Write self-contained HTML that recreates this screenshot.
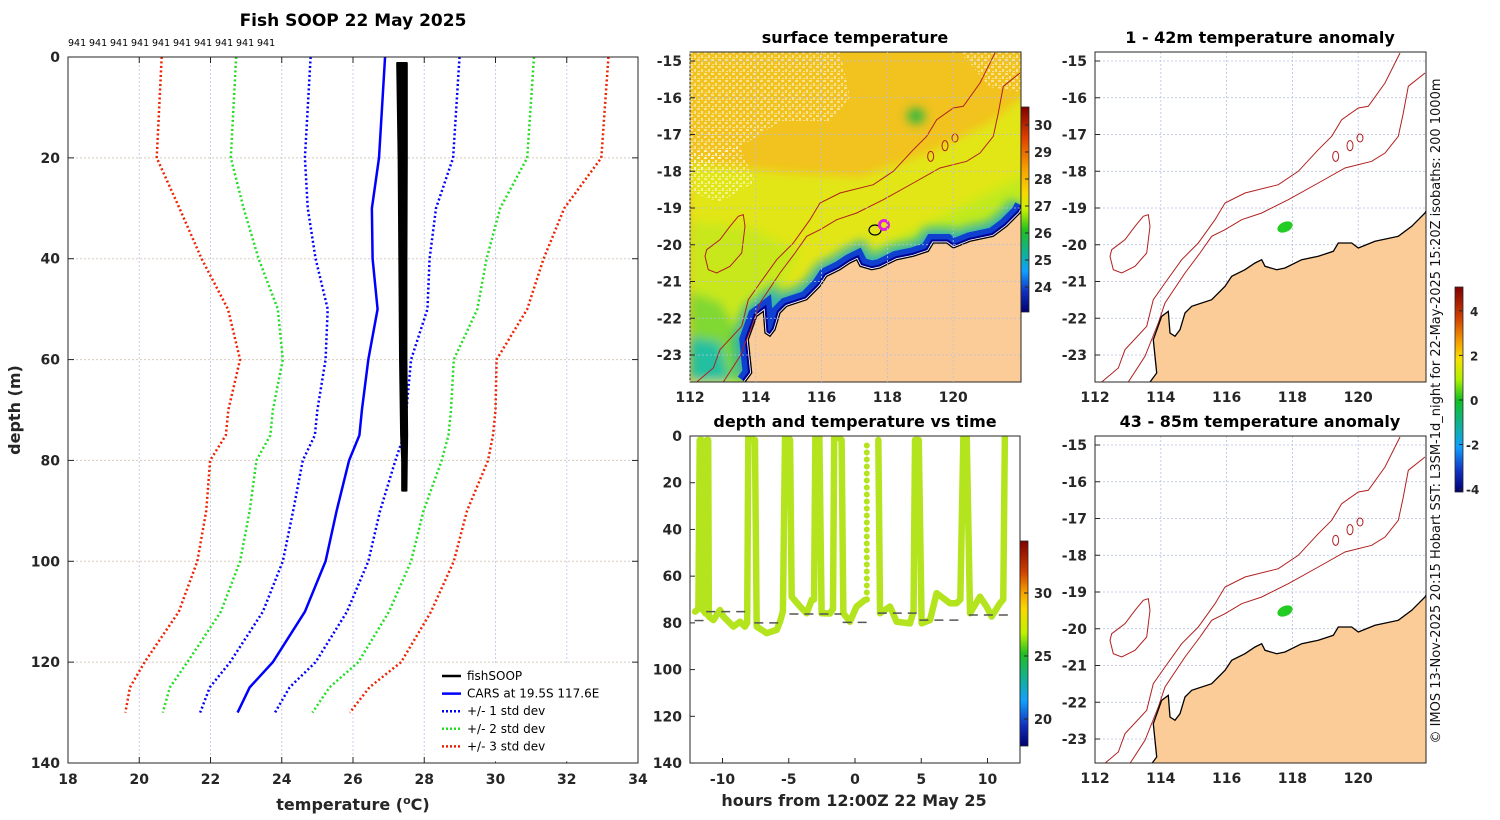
<!DOCTYPE html>
<html><head><meta charset="utf-8">
<style>
html,body{margin:0;padding:0;background:#fff;}
svg{display:block;font-family:"DejaVu Sans","Liberation Sans",sans-serif;}
.tk{font-size:14px;font-weight:bold;fill:#262626;}
.tt{font-size:16px;font-weight:bold;fill:#000;}
</style></head>
<body>
<svg id="fig" width="1500" height="820" viewBox="0 0 1500 820" xmlns="http://www.w3.org/2000/svg">
<defs>
<clipPath id="cm1"><rect x="0" y="0" width="331" height="330"/></clipPath>
<clipPath id="cm2"><rect x="0" y="0" width="331" height="327"/></clipPath>
<clipPath id="cts"><rect x="690" y="436" width="330" height="327"/></clipPath>
<filter id="blur3"><feGaussianBlur stdDeviation="5"/></filter>
<pattern id="speck" width="7" height="7" patternUnits="userSpaceOnUse">
<rect x="0" y="0" width="3" height="2" fill="#fff"/><rect x="4" y="3" width="2" height="3" fill="#fff"/><rect x="1" y="5" width="2" height="1" fill="#fff"/>
</pattern>
<linearGradient id="jet1" x1="0" y1="0" x2="0" y2="1">
<stop offset="0" stop-color="#800000"/><stop offset="0.15" stop-color="#e04000"/><stop offset="0.3" stop-color="#f5a000"/><stop offset="0.42" stop-color="#f8d800"/><stop offset="0.5" stop-color="#c8f000"/><stop offset="0.6" stop-color="#20c020"/><stop offset="0.72" stop-color="#10b0a0"/><stop offset="0.8" stop-color="#10a0ff"/><stop offset="0.9" stop-color="#1030c0"/><stop offset="1" stop-color="#000070"/></linearGradient>
<linearGradient id="jet2" x1="0" y1="0" x2="0" y2="1">
<stop offset="0" stop-color="#800000"/><stop offset="0.15" stop-color="#d04000"/><stop offset="0.25" stop-color="#f5a000"/><stop offset="0.33" stop-color="#f8d800"/><stop offset="0.45" stop-color="#c0f000"/><stop offset="0.55" stop-color="#20c020"/><stop offset="0.68" stop-color="#10b0a0"/><stop offset="0.78" stop-color="#10a0ff"/><stop offset="0.9" stop-color="#1030c0"/><stop offset="1" stop-color="#000070"/></linearGradient>
<linearGradient id="jet3" x1="0" y1="0" x2="0" y2="1">
<stop offset="0" stop-color="#800000"/><stop offset="0.15" stop-color="#d04000"/><stop offset="0.27" stop-color="#f5a000"/><stop offset="0.35" stop-color="#f8e000"/><stop offset="0.45" stop-color="#b0f000"/><stop offset="0.55" stop-color="#10c020"/><stop offset="0.68" stop-color="#10b0a0"/><stop offset="0.78" stop-color="#10a0ff"/><stop offset="0.9" stop-color="#1030c0"/><stop offset="1" stop-color="#000070"/></linearGradient>
</defs>
<g id="left"></g>
<g id="mid"></g>
<g id="right"></g>
<text x="1440" y="411" transform="rotate(-90 1440 411)" text-anchor="middle" font-size="13" fill="#111">© IMOS 13-Nov-2025 20:15 Hobart SST: L3SM-1d_night for 22-May-2025 15:20Z isobaths: 200  1000m</text>
</svg>
<script>
// ---------- DATA ----------
const carsDepth = [0,20,30,40,50,60,70,75,80,90,100,110,120,125,130];
const carsMean  = [26.9,26.73,26.53,26.55,26.69,26.43,26.25,26.18,25.89,25.54,25.23,24.65,23.75,23.1,22.76];
const carsSd    = [2.09,2.08,1.8,1.6,1.4,1.2,1.25,1.25,1.3,1.22,1.2,1.18,1.2,1.12,1.05];
const soopDepth = [1.2,20,40,60,75,80,86];
const soopLeft  = [27.24,27.28,27.3,27.32,27.35,27.38,27.38];
const soopRight = [27.51,27.51,27.5,27.5,27.52,27.51,27.5];
const xTicks = [18,20,22,24,26,28,30,32,34];
const yTicks = [0,20,40,60,80,100,120,140];
const countLabels = ['941','941','941','941','941','941','941','941','941','941'];
// dive series (hours, depth m)
const diveA_t = [-12.07,-11.82,-11.72,-11.57,-11.47,-11.28,-11.18,-11.08,-11.03,-10.69,-10.19,-9.93,-9.18,-8.68,-8.31,-8.14,-8.05,-7.84,-7.67,-7.55,-7.42,-6.67,-5.91,-5.66,-5.44,-5.28,-5.05,-4.90,-4.78,-4.15,-3.65,-3.27,-3.09,-2.99,-2.69,-2.52,-1.89,-1.66,-1.57,-1.37,-1.01,-0.88,-0.38,0.12,0.74,0.89];
const diveA_d = [75.2,74,1.7,1.7,74.5,76,1.7,1.7,77.3,78.8,74.5,77.3,81.6,79.5,81.6,80,0.3,0.3,1.7,1.7,81.6,84.4,83,79.5,75,0.3,0.3,1.7,68.8,73,75.9,70.2,70,0.3,0.3,75.9,76,74,0.3,0.3,1.7,75.9,79.5,73,70.2,70];
const diveB_t = [1.76,1.89,2.64,3.14,4.15,4.42,4.53,4.81,5.03,5.66,6.16,7.17,7.67,7.95,8.18,8.43,8.68,9.43,9.93,10.31,10.94,11.19,11.31];
const diveB_d = [1.7,75.9,73,79.5,80.2,75,1.7,1.7,80.2,78.8,67.3,71.6,71.6,70,0.3,0.3,75.9,68.8,73,77.3,71.6,70,0.3];
const bottomT0 = [-12.11,-11.23,-7.60,-4.95,-0.93,1.72,4.86,8.59];
const bottomT1 = [-11.42,-7.99,-5.34,-1.03,0.94,4.66,8.20,11.73];
const bottomD  = [79,75.2,80,76.2,79.8,75.8,78.8,76.6];
const tsXTicks = [-10,-5,0,5,10];
const tsYTicks = [0,20,40,60,80,100,120,140];

const NS='http://www.w3.org/2000/svg';
function mk(tag, attrs, parent){const e=document.createElementNS(NS,tag);for(const k in attrs)e.setAttribute(k,attrs[k]);parent.appendChild(e);return e;}
function txt(s, attrs, parent){const e=mk('text',attrs,parent);e.textContent=s;return e;}

// ---------- LEFT PROFILE ----------
const L=document.getElementById('left');
const X=t=>68+(t-18)*570/16, Y=d=>57+d*706/140;
let e;
e=mk('rect',{x:68,y:57,width:570,height:706,fill:'#fff'},L);


xTicks.forEach(t=>{
 if(t>18&&t<34){e=mk('line',{x1:X(t),x2:X(t),y1:57,y2:763,stroke:'#c8d0e8','stroke-dasharray':'2,2','stroke-width':1},L);
 }
 e=txt(String(t),{x:X(t),y:784,'text-anchor':'middle',class:'tk'},L);
 
 mk('line',{x1:X(t),x2:X(t),y1:763,y2:757,stroke:'#262626'},L);
 mk('line',{x1:X(t),x2:X(t),y1:57,y2:63,stroke:'#262626'},L);
});
yTicks.forEach(d=>{
 if(d>0&&d<140){e=mk('line',{x1:68,x2:638,y1:Y(d),y2:Y(d),stroke:'#d8ccc0','stroke-dasharray':'2,2','stroke-width':1},L);
 }
 e=txt(String(d),{x:60,y:Y(d)+5,'text-anchor':'end',class:'tk'},L);
 
 mk('line',{x1:68,x2:74,y1:Y(d),y2:Y(d),stroke:'#262626'},L);
 mk('line',{x1:632,x2:638,y1:Y(d),y2:Y(d),stroke:'#262626'},L);
});
const sdCols=['#0000ff','#22dd22','#ee2200'];
[3,2,1].forEach(k=>{
 [-1,1].forEach(s=>{
  const pts=carsDepth.map((d,i)=>X(carsMean[i]+s*k*carsSd[i])+','+Y(d)).join(' ');
  e=mk('polyline',{points:pts,fill:'none',stroke:sdCols[k-1],'stroke-width':2.5,'stroke-dasharray':'2,2.5'},L);
  
  
 });
});
e=mk('polyline',{points:carsDepth.map((d,i)=>X(carsMean[i])+','+Y(d)).join(' '),fill:'none',stroke:'#0000ff','stroke-width':2.5},L);


{
 const a=soopDepth.map((d,i)=>X(soopLeft[i])+','+Y(d));
 const b=soopDepth.map((d,i)=>X(soopRight[i])+','+Y(d)).reverse();
 e=mk('polygon',{points:a.concat(b).join(' '),fill:'#000',stroke:'#000','stroke-width':2,'stroke-linejoin':'round'},L);
 
 
}
e=mk('rect',{x:68,y:57,width:570,height:706,fill:'none',stroke:'#262626','stroke-width':1},L);


countLabels.forEach((s,i)=>{
 e=txt(s,{x:68+i*21,y:46,'font-size':9.5,fill:'#000'},L);
 
 
});
e=txt('Fish SOOP 22 May 2025',{x:353,y:26,'text-anchor':'middle','font-size':17,'font-weight':'bold'},L);


e=txt('',{x:353,y:810,'text-anchor':'middle','font-size':16,'font-weight':'bold',fill:'#262626'},L);
e.innerHTML='temperature (<tspan dy="-6" font-size="11">o</tspan><tspan dy="6">C)</tspan>';


e=txt('depth (m)',{x:20,y:410,'text-anchor':'middle','font-size':16,'font-weight':'bold',fill:'#262626',transform:'rotate(-90 20 410)'},L);


// legend
const lg=mk('g',{},L);


mk('rect',{x:436,y:664,width:200,height:97,fill:'#fff',stroke:'#fff'},lg);
const legItems=[['fishSOOP','#000',''],['CARS at 19.5S 117.6E','#0000ff',''],['+/- 1 std dev','#0000ff','2,2'],['+/- 2 std dev','#22dd22','2,2'],['+/- 3 std dev','#ee2200','2,2']];
legItems.forEach((it,i)=>{
 const y=676+i*17.6;
 e=mk('line',{x1:442,x2:461,y1:y,y2:y,stroke:it[1],'stroke-width':2.5,'stroke-dasharray':it[2]||'none'},lg);
 
 
 e=txt(it[0],{x:467,y:y+4,'font-size':12,fill:'#000'},lg);
 
 
});

// ---------- MAPS ----------
const zp=(arr)=>arr.map(p=>((p[0]-30)/3).toFixed(1)+','+((p[1]-37)/3).toFixed(1)).join(' ');
const iso1000=[[50,1027],[100,985],[120,930],[185,860],[205,780],[240,730],[290,660],[340,610],[390,540],[420,490],[480,460],[580,435],[640,395],[700,330],[740,290],[770,240],[820,205],[850,200],[900,130],[945,40]];
const iso200=[[130,1027],[180,950],[220,850],[240,790],[300,700],[345,640],[380,590],[420,570],[470,540],[530,520],[610,480],[700,430],[780,385],[860,365],[900,340],[940,290],[955,220],[970,140],[1020,100]];
const plateau=[[80,630],[120,600],[150,560],[175,530],[190,525],[195,560],[185,640],[150,680],[110,700],[85,690],[75,650]];
const coast=[[195,1027],[215,1000],[205,900],[230,830],[250,815],[255,880],[270,890],[285,870],[300,820],[320,800],[380,780],[420,740],[440,710],[480,690],[510,670],[530,660],[540,680],[575,690],[600,685],[650,660],[700,650],[745,635],[760,610],[800,610],[820,625],[870,605],[940,590],[980,560],[1020,520],[1030,500]];
const landPoly=coast.concat([[1030,1040],[195,1040]]);
const mapLonTicks=[112,114,116,118,120];
const mapLatTicks=[-15,-16,-17,-18,-19,-20,-21,-22,-23];
const LX=lon=>(lon-112)*32.9, LY=lat=>(-15-lat)*36.75+9;

function mapAxes(g,ox,oy,h,title,tname){
 mapLonTicks.forEach(lon=>{
  mk('line',{x1:LX(lon),x2:LX(lon),y1:0,y2:h,stroke:'#b8c0e0','stroke-dasharray':'2,2','stroke-width':0.8},g);
  e=txt(String(lon),{x:LX(lon),y:h+20,'text-anchor':'middle',class:'tk'},g);
  
  
 });
 mapLatTicks.forEach(lat=>{
  if(LY(lat)>h)return;
  mk('line',{x1:0,x2:331,y1:LY(lat),y2:LY(lat),stroke:'#b8c0e0','stroke-dasharray':'2,2','stroke-width':0.8},g);
  mk('line',{x1:0,x2:5,y1:LY(lat),y2:LY(lat),stroke:'#262626'},g);
  e=txt(String(lat),{x:-8,y:LY(lat)+5,'text-anchor':'end',class:'tk'},g);
  
  
 });
 e=txt(title,{x:165,y:-9,'text-anchor':'middle',class:'tt'},g);
 
 
}
function contours(g){
 e=mk('polyline',{points:zp(iso1000),fill:'none',stroke:'#b02020','stroke-width':1},g);
 
 
 e=mk('polyline',{points:zp(iso200),fill:'none',stroke:'#b02020','stroke-width':1},g);
 
 
 mk('polygon',{points:zp(plateau),fill:'none',stroke:'#b02020','stroke-width':1},g);
 [[752,350,3,5],[795,318,3,5],[825,295,3,4]].forEach(c=>mk('ellipse',{cx:(c[0]-30)/3,cy:(c[1]-37)/3,rx:c[2],ry:c[3],fill:'none',stroke:'#b02020'},g));
}
function land(g){
 e=mk('polygon',{points:zp(landPoly),fill:'#fccc98',stroke:'none'},g);
 
 
 mk('polyline',{points:zp(coast),fill:'none',stroke:'#000','stroke-width':1.3},g);
}
const M=document.getElementById('mid');
// SST map
{
 const g=mk('g',{transform:'translate(690,52)'},M);
 
 
 const c=mk('g',{'clip-path':'url(#cm1)'},g);
 mk('rect',{x:0,y:0,width:331,height:330,fill:'#f2c21e'},c);
 const f=mk('g',{filter:'url(#blur3)'},c);
 mk('polygon',{points:'0,110 90,120 170,125 240,100 300,70 340,40 340,340 0,340',fill:'#e2e618'},f);
 mk('polygon',{points:'0,170 60,175 110,200 60,300 0,330',fill:'#c8e81c'},f);
 mk('polygon',{points:'60,280 110,240 170,205 240,170 300,140 340,120 340,340 60,340',fill:'#c0ea1c'},f);
 mk('polygon',{points:'70,320 110,265 170,228 240,205 295,185 340,165 340,340 70,340',fill:'#50cc2c'},f);
 mk('polygon',{points:'0,240 30,250 55,290 50,330 0,330',fill:'#80d830'},f);
 mk('polygon',{points:'0,285 30,290 40,330 0,330',fill:'#20c0a0'},f);
 mk('ellipse',{cx:226,cy:64,rx:9,ry:8,fill:'#30b840'},f);
 mk('polygon',{points:'0,0 150,0 160,45 140,70 90,70 50,95 0,125',fill:'url(#speck)','fill-opacity':0.5},c);
 mk('polygon',{points:'0,100 50,95 65,130 30,150 0,140',fill:'url(#speck)','fill-opacity':0.5},c);
 mk('polygon',{points:'270,0 331,0 331,40 300,35',fill:'url(#speck)','fill-opacity':0.5},c);
 mk('polyline',{points:zp(coast),fill:'none',stroke:'#10a8d0','stroke-width':30,'stroke-opacity':0.8,filter:'url(#blur3)'},c);
 mk('polyline',{points:zp(coast),fill:'none',stroke:'#1040d0','stroke-width':18},c);
 mk('polyline',{points:zp(coast),fill:'none',stroke:'#000090','stroke-width':7},c);
 mk('polyline',{points:zp(coast),fill:'none',stroke:'#fff','stroke-width':3},c);
 contours(c);
 land(c);
 mk('ellipse',{cx:185,cy:178,rx:6,ry:5,fill:'none',stroke:'#000','stroke-width':1.2},c);
 e=mk('circle',{cx:194,cy:173,r:4.5,fill:'none',stroke:'#e020e0','stroke-width':3},c);
 
 
 mk('rect',{x:0,y:0,width:331,height:330,fill:'none',stroke:'#262626'},g);
 mapAxes(g,690,52,330,'surface temperature','sst-map-title');
 e=mk('rect',{x:331,y:55,width:8,height:205,fill:'url(#jet1)',stroke:'#262626','stroke-width':0.8},g);
 
 
 const cbT=[30,29,28,27,26,25,24];
 cbT.forEach(v=>{const y=73+(30-v)*27;mk('line',{x1:335,x2:339,y1:y,y2:y,stroke:'#262626'},g);
  e=txt(String(v),{x:344,y:y+5,'font-size':13,'font-weight':'bold',fill:'#262626'},g);
  });
}
// time series
{
 const g=mk('g',{},M);
 
 
 const TX=t=>855+t*13.25, TY=d=>436+d*2.336;
 tsYTicks.forEach(d=>{mk('line',{x1:690,x2:695,y1:TY(d),y2:TY(d),stroke:'#262626'},g);
  e=txt(String(d),{x:682,y:TY(d)+5,'text-anchor':'end',class:'tk'},g);
  });
 tsXTicks.forEach(t=>{mk('line',{x1:TX(t),x2:TX(t),y1:763,y2:758,stroke:'#262626'},g);
  e=txt(String(t),{x:TX(t),y:784,'text-anchor':'middle',class:'tk'},g);
  });
 const c=mk('g',{'clip-path':'url(#cts)'},g);
 e=mk('polyline',{points:diveA_t.map((t,i)=>TX(t)+','+TY(diveA_d[i])).join(' '),fill:'none',stroke:'#b4e41e','stroke-width':6.5,'stroke-linejoin':'round','stroke-linecap':'round'},c);
 
 
 e=mk('polyline',{points:diveB_t.map((t,i)=>TX(t)+','+TY(diveB_d[i])).join(' '),fill:'none',stroke:'#b4e41e','stroke-width':6.5,'stroke-linejoin':'round','stroke-linecap':'round'},c);
 
 
 const lastT=diveA_t[diveA_t.length-1];
 e=mk('line',{x1:TX(lastT),x2:TX(lastT),y1:TY(diveA_d[diveA_d.length-1]),y2:TY(2),stroke:'#b4e41e','stroke-width':6,'stroke-linecap':'round','stroke-dasharray':'0,7'},c);
 
 
 bottomD.forEach((d,i)=>{
  e=mk('line',{x1:TX(bottomT0[i]),x2:TX(bottomT1[i]),y1:TY(d),y2:TY(d),stroke:'#555','stroke-width':1.5,'stroke-dasharray':'9,6'},c);
  
  
 });
 mk('rect',{x:690,y:436,width:330,height:327,fill:'none',stroke:'#262626'},g);
 e=txt('depth and temperature vs time',{x:855,y:427,'text-anchor':'middle',class:'tt'},g);
 
 e=txt('hours from 12:00Z 22 May 25',{x:854,y:806,'text-anchor':'middle','font-size':16,'font-weight':'bold',fill:'#262626'},g);
 
 e=mk('rect',{x:1020,y:541,width:8,height:205,fill:'url(#jet2)',stroke:'#262626','stroke-width':0.8},g);
 
 [30,25,20].forEach(v=>{const y=593+(30-v)*12.6;mk('line',{x1:1024,x2:1028,y1:y,y2:y,stroke:'#262626'},g);
  e=txt(String(v),{x:1034,y:y+5,'font-size':13,'font-weight':'bold',fill:'#262626'},g);
  });
}
// anomaly maps
const R=document.getElementById('right');
[[52,330,'1 - 42m temperature anomaly','cm1'],[436,327,'43 - 85m temperature anomaly','cm2']].forEach((m,idx)=>{
 const g=mk('g',{transform:'translate(1095,'+m[0]+')'},R);
 
 
 mapAxes(g,1095,m[0],m[1],m[2],'anomaly-map-title');
 const c=mk('g',{'clip-path':'url(#'+m[3]+')'},g);
 contours(c);
 land(c);
 e=mk('ellipse',{cx:190,cy:175,rx:8,ry:5,transform:'rotate(-25 190 175)',fill:'#22cc22'},c);
 
 
 mk('rect',{x:0,y:0,width:331,height:m[1],fill:'none',stroke:'#262626'},g);
});
e=mk('rect',{x:1455,y:287,width:8,height:205,fill:'url(#jet3)',stroke:'#262626','stroke-width':0.8},R);

[4,2,0,-2,-4].forEach(v=>{const y=400-v*22.3;mk('line',{x1:1459,x2:1463,y1:y,y2:y,stroke:'#262626'},R);
 e=txt(String(v),{x:v<0?1466:1470,y:y+5,'font-size':12,'font-weight':'bold',fill:'#262626'},R);
 });
</script>
</body></html>
